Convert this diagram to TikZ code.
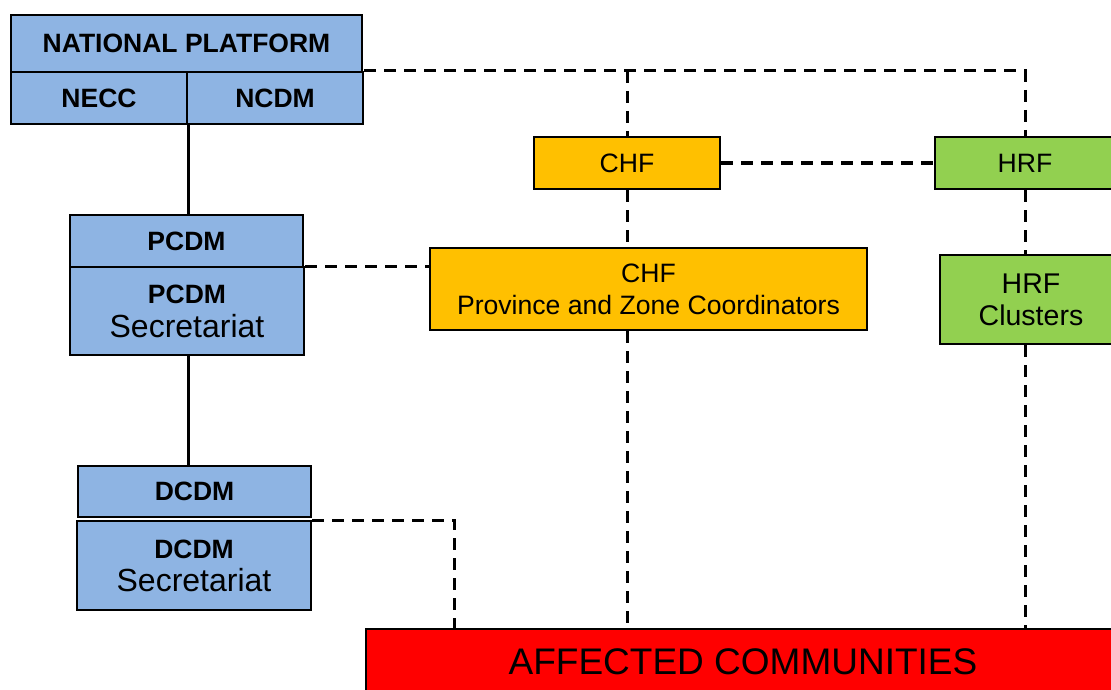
\documentclass[tikz,border=0pt]{standalone}
\usepackage{fontspec}
\setmainfont{Liberation Sans}
\definecolor{ppblue}{RGB}{142,180,227}
\definecolor{pporange}{RGB}{255,192,0}
\definecolor{ppgreen}{RGB}{146,208,80}
\definecolor{ppred}{RGB}{255,0,0}
\newcommand\fbold{\fontsize{26.5}{30}\selectfont\bfseries}
\newcommand\freg{\fontsize{26.6}{32}\selectfont}
\newcommand\fsec{\fontsize{32}{34}\selectfont}
\newcommand\fhrf{\fontsize{28.5}{32}\selectfont}
\newcommand\fbig{\fontsize{37}{40}\selectfont}
\begin{document}
\begin{tikzpicture}[x=1pt,y=-1pt,
  box/.style={draw=black, line width=2pt, inner sep=0pt, align=center, anchor=north west},
  bluebox/.style={box, fill=ppblue},
  orbox/.style={box, fill=pporange},
  grbox/.style={box, fill=ppgreen},
  redbox/.style={box, fill=ppred},
  conn/.style={line width=3pt},
  dconn/.style={line width=3pt, dash pattern=on 12pt off 8pt}]
\useasboundingbox (0,0) rectangle (1111,690);
\clip (0,0) rectangle (1111,690);
% blue hierarchy
\node[bluebox, minimum width=351, minimum height=57, font=\fbold] (np) at (10,14) {NATIONAL PLATFORM};
\node[bluebox, minimum width=176, minimum height=52, font=\fbold] (necc) at (10,71) {NECC};
\node[bluebox, minimum width=176, minimum height=52, font=\fbold] (ncdm) at (186,71) {NCDM};
\node[bluebox, minimum width=233, minimum height=52, font=\fbold] (pcdm) at (69,214) {PCDM};
\node[bluebox, minimum width=234, minimum height=88, font=\fontsize{30}{34}\selectfont] (pcdmsec) at (69,266) {{\fbold PCDM}\\{\fsec Secretariat}};
\node[bluebox, minimum width=233, minimum height=51, font=\fbold] (dcdm) at (77,465) {DCDM};
\node[bluebox, minimum width=234, minimum height=89, font=\fontsize{30}{33}\selectfont] (dcdmsec) at (76,520) {{\fbold DCDM}\\{\fsec Secretariat}};
% funds
\node[orbox, minimum width=186, minimum height=52, font=\freg] (chf) at (533,136) {CHF};
\node[orbox, minimum width=437, minimum height=82, font=\freg] (chfprov) at (429,247) {CHF\\Province and Zone Coordinators};
\node[grbox, minimum width=180, minimum height=52, font=\freg] (hrf) at (934,136) {HRF};
\node[grbox, minimum width=182, minimum height=89, font=\fhrf] (hrfcl) at (939,254) {HRF\\Clusters};
\node[redbox, minimum width=754, minimum height=66, font=\fbig] (aff) at (365,628) {AFFECTED COMMUNITIES};
% solid connectors
\draw[conn] (necc.south east) -- (necc.south east |- pcdm.north);
\draw[conn] (necc.south east |- pcdmsec.south) -- (necc.south east |- dcdm.north);
% dashed connectors
\coordinate (jr) at (hrf.north |- ncdm.north east);
\coordinate (jm) at (chf.north |- ncdm.north east);
\draw[dconn] (ncdm.north east) -- (jr) -- (hrf.north);
\draw[dconn] (jm) -- (chf.north);
\draw[dconn] (chf.south) -- (chf.south |- chfprov.north);
\draw[dconn] (chf.south |- chfprov.south) -- (chf.south |- aff.north);
\draw[dconn] (hrf.south) -- (hrf.south |- hrfcl.north);
\draw[dconn] (hrf.south |- hrfcl.south) -- (hrf.south |- aff.north);
\draw[dconn] (chf.east) -- (hrf.west);
\draw[dconn] (pcdmsec.north east) -- (pcdmsec.north east -| chfprov.west);
\coordinate (dk) at (454,628);
\draw[dconn] (dcdmsec.north east) -| (dk);
\end{tikzpicture}
\end{document}
